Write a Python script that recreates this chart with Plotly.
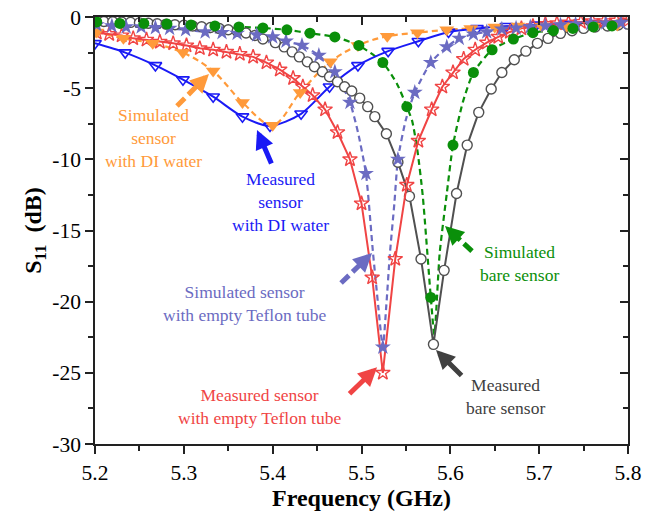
import plotly.graph_objects as go

# ---------------- data ----------------
# Measured bare sensor (grey open circles, solid)
meas_bare_f = [5.200, 5.210, 5.220, 5.230, 5.240, 5.250, 5.260, 5.270, 5.280, 5.290,
               5.300, 5.310, 5.320, 5.330, 5.340, 5.350, 5.360, 5.370, 5.380, 5.389,
               5.403, 5.413, 5.422, 5.430, 5.439, 5.447, 5.456, 5.464, 5.473, 5.481,
               5.489, 5.498, 5.507, 5.515, 5.528, 5.541, 5.554, 5.567, 5.581, 5.593,
               5.607, 5.619, 5.632, 5.646, 5.658, 5.672, 5.685, 5.698, 5.710, 5.724,
               5.737, 5.750, 5.763, 5.777, 5.789, 5.800]
meas_bare_db = [-0.30, -0.32, -0.34, -0.36, -0.38, -0.41, -0.44, -0.47, -0.50, -0.54,
                -0.58, -0.63, -0.68, -0.74, -0.81, -0.90, -1.00, -1.12, -1.30, -1.55,
                -1.80, -2.10, -2.45, -2.80, -3.15, -3.50, -3.85, -4.20, -4.55, -4.90,
                -5.20, -5.70, -6.30, -7.00, -8.20, -10.20, -12.60, -17.00, -23.00, -17.80,
                -12.40, -9.00, -6.70, -5.06, -3.90, -3.00, -2.40, -1.85, -1.50, -1.15,
                -0.97, -0.80, -0.70, -0.63, -0.56, -0.50]

# Simulated bare sensor (green filled circles, dashed)
sim_bare_f = [5.202, 5.228, 5.255, 5.281, 5.308, 5.335, 5.362, 5.389, 5.416, 5.442,
              5.470, 5.497, 5.524, 5.551, 5.578, 5.603, 5.626, 5.647, 5.671, 5.693,
              5.716, 5.738, 5.761, 5.782]
sim_bare_db = [-0.35, -0.45, -0.45, -0.50, -0.56, -0.63, -0.70, -0.77, -0.90, -1.14,
               -1.40, -2.00, -3.20, -6.30, -19.70, -9.00, -3.90, -2.30, -1.55, -1.10,
               -0.95, -0.80, -0.70, -0.63]
sim_bare_line_f = [5.200, 5.228, 5.255, 5.281, 5.308, 5.335, 5.362, 5.389, 5.416, 5.442,
                   5.470, 5.497, 5.524, 5.540, 5.551, 5.557, 5.563, 5.569, 5.578, 5.582,
                   5.588, 5.596, 5.603, 5.614, 5.626, 5.647, 5.671, 5.693, 5.716, 5.738,
                   5.761, 5.782, 5.800]
sim_bare_line_db = [-0.33, -0.45, -0.45, -0.50, -0.56, -0.63, -0.70, -0.77, -0.90, -1.14,
                    -1.40, -2.00, -3.20, -4.70, -6.30, -7.30, -9.40, -12.60, -19.70, -22.30,
                    -16.60, -12.40, -9.00, -6.00, -3.90, -2.30, -1.55, -1.10, -0.95, -0.80,
                    -0.70, -0.63, -0.60]

# Measured sensor with empty Teflon tube (red open stars, solid)
meas_tef_f = [5.202, 5.216, 5.230, 5.243, 5.258, 5.273, 5.288, 5.303, 5.318, 5.333,
              5.348, 5.363, 5.378, 5.393, 5.408, 5.423, 5.434, 5.445, 5.459, 5.473,
              5.487, 5.500, 5.512, 5.524, 5.538, 5.551, 5.564, 5.579, 5.591, 5.603,
              5.615, 5.628, 5.641, 5.654, 5.667, 5.680, 5.693, 5.707, 5.720, 5.733,
              5.747, 5.760, 5.773, 5.787, 5.800]
meas_tef_db = [-1.10, -1.20, -1.30, -1.50, -1.60, -1.75, -1.85, -2.00, -2.20, -2.30,
               -2.45, -2.60, -2.80, -3.20, -3.70, -4.30, -4.90, -5.50, -6.50, -8.10,
               -10.00, -13.10, -18.30, -25.00, -17.00, -11.80, -8.70, -6.50, -4.90, -3.90,
               -2.95, -2.30, -1.80, -1.40, -1.05, -0.80, -0.65, -0.50, -0.45, -0.40,
               -0.35, -0.30, -0.30, -0.25, -0.25]

# Simulated sensor with empty Teflon tube (slate filled stars, dashed)
sim_tef_f = [5.202, 5.219, 5.235, 5.252, 5.268, 5.284, 5.302, 5.324, 5.343, 5.360,
             5.382, 5.400, 5.415, 5.433, 5.452, 5.470, 5.487, 5.505, 5.524, 5.541,
             5.560, 5.578, 5.596, 5.610, 5.626, 5.641, 5.658, 5.674, 5.690, 5.707,
             5.724, 5.741, 5.758, 5.775, 5.792]
sim_tef_db = [-0.56, -0.63, -0.70, -0.70, -0.75, -0.80, -0.90, -1.05, -1.10, -1.15,
              -1.26, -1.40, -1.70, -2.00, -2.70, -3.85, -6.00, -11.00, -23.20, -10.00,
              -5.30, -3.20, -2.10, -1.50, -1.20, -1.05, -0.85, -0.78, -0.70, -0.63,
              -0.56, -0.50, -0.45, -0.42, -0.40]
sim_tef_line_f = [5.200, 5.219, 5.235, 5.252, 5.268, 5.284, 5.302, 5.324, 5.343, 5.360,
                  5.382, 5.400, 5.415, 5.433, 5.452, 5.470, 5.487, 5.496, 5.505, 5.513,
                  5.519, 5.524, 5.528, 5.532, 5.537, 5.541, 5.550, 5.560, 5.578, 5.596,
                  5.610, 5.626, 5.641, 5.658, 5.674, 5.690, 5.707, 5.724, 5.741, 5.758,
                  5.775, 5.792, 5.800]
sim_tef_line_db = [-0.55, -0.63, -0.70, -0.70, -0.75, -0.80, -0.90, -1.05, -1.10, -1.15,
                   -1.26, -1.40, -1.70, -2.00, -2.70, -3.85, -6.00, -8.10, -11.00, -16.60,
                   -20.40, -23.20, -20.20, -16.60, -13.10, -10.00, -7.20, -5.30, -3.20, -2.10,
                   -1.50, -1.20, -1.05, -0.85, -0.78, -0.70, -0.63, -0.56, -0.50, -0.45,
                   -0.42, -0.40, -0.40]

# Measured sensor with DI water (blue open triangles, solid)
meas_di_f = [5.200, 5.234, 5.268, 5.299, 5.333, 5.366, 5.397, 5.432, 5.464, 5.496,
             5.530, 5.564, 5.598, 5.630, 5.663, 5.697, 5.730, 5.763, 5.797]
meas_di_db = [-1.85, -2.50, -3.40, -4.40, -5.60, -7.00, -7.65, -6.80, -4.90, -3.40,
              -2.40, -1.70, -1.05, -0.80, -0.65, -0.55, -0.50, -0.45, -0.40]

# Simulated sensor with DI water (orange filled triangles, dashed)
sim_di_f = [5.202, 5.232, 5.265, 5.299, 5.333, 5.366, 5.400, 5.431, 5.465, 5.496,
            5.529, 5.563, 5.596, 5.623, 5.650, 5.676, 5.703, 5.731, 5.761, 5.788]
sim_di_db = [-1.05, -1.50, -1.85, -2.50, -3.80, -6.00, -7.60, -5.30, -3.15, -2.00,
             -1.35, -1.10, -0.90, -0.80, -0.70, -0.63, -0.63, -0.63, -0.63, -0.56]

x_ticks = [5.2, 5.3, 5.4, 5.5, 5.6, 5.7, 5.8]
y_ticks = [0, -5, -10, -15, -20, -25, -30]

# ---------------- styling ----------------
FONT = "Liberation Serif"
C_GRAY = "#505050"
C_GREEN = "#0A8F0A"
C_RED = "#F04444"
C_SLATE = "#6B6BC2"
C_BLUE = "#1A1AF5"
C_ORANGE = "#FF9A3A"
DASH = "6px,4px"

fig = go.Figure()

# simulated lines (under markers)
fig.add_trace(go.Scatter(x=sim_bare_line_f, y=sim_bare_line_db, mode="lines",
                         line=dict(color=C_GREEN, width=2.2, dash=DASH, shape="spline", smoothing=0.6),
                         hoverinfo="skip"))
fig.add_trace(go.Scatter(x=sim_tef_line_f, y=sim_tef_line_db, mode="lines",
                         line=dict(color=C_SLATE, width=2.2, dash=DASH, shape="spline", smoothing=0.6),
                         hoverinfo="skip"))
fig.add_trace(go.Scatter(x=sim_di_f, y=sim_di_db, mode="lines",
                         line=dict(color=C_ORANGE, width=2.2, dash=DASH, shape="spline", smoothing=1.0),
                         hoverinfo="skip"))

# measured
fig.add_trace(go.Scatter(x=meas_di_f, y=meas_di_db, mode="lines+markers",
                         line=dict(color=C_BLUE, width=2, shape="spline", smoothing=0.8),
                         marker=dict(symbol="triangle-down-open", size=11, color=C_BLUE,
                                     line=dict(width=1.6, color=C_BLUE))))
fig.add_trace(go.Scatter(x=meas_bare_f, y=meas_bare_db, mode="lines+markers",
                         line=dict(color=C_GRAY, width=2),
                         marker=dict(symbol="circle", size=10, color="white",
                                     line=dict(width=1.4, color=C_GRAY))))
fig.add_trace(go.Scatter(x=meas_tef_f, y=meas_tef_db, mode="lines+markers",
                         line=dict(color=C_RED, width=2),
                         marker=dict(symbol="star-open", size=11, color=C_RED,
                                     line=dict(width=1.4, color=C_RED))))

# simulated markers
fig.add_trace(go.Scatter(x=sim_di_f, y=sim_di_db, mode="markers",
                         marker=dict(symbol="triangle-down", size=13, color=C_ORANGE)))
fig.add_trace(go.Scatter(x=sim_tef_f, y=sim_tef_db, mode="markers",
                         marker=dict(symbol="star", size=12, color=C_SLATE)))
fig.add_trace(go.Scatter(x=sim_bare_f, y=sim_bare_db, mode="markers",
                         marker=dict(symbol="circle", size=11, color=C_GREEN)))

# ---------------- arrows & labels ----------------
PX_X = 888.3   # pixels per GHz in the plot area
PX_Y = 14.23   # pixels per dB

arrows = [  # tip f, tip dB, tail f, tail dB, colour, dashed
    (5.3283, -4.00, 5.2923, -6.25, C_ORANGE, True),
    (5.3824, -7.94, 5.3993, -10.40, C_BLUE, False),
    (5.5119, -16.58, 5.4770, -18.69, C_SLATE, True),
    (5.5175, -24.60, 5.4848, -26.57, C_RED, False),
    (5.5839, -23.40, 5.6143, -25.30, "#404040", False),
    (5.5940, -14.69, 5.6244, -16.45, C_GREEN, True),
]
for tf, tdb, af, adb, col, dashed in arrows:
    dxp = (af - tf) * PX_X
    dyp = -(adb - tdb) * PX_Y
    L = (dxp ** 2 + dyp ** 2) ** 0.5
    ux, uy = dxp / L, dyp / L
    if dashed:
        hb = 12
        fig.add_shape(type="line", xref="x", yref="y",
                      x0=af, y0=adb, x1=tf + ux * hb / PX_X, y1=tdb - uy * hb / PX_Y,
                      line=dict(color=col, width=5, dash="11px,5px"))
        fig.add_annotation(x=tf, y=tdb, xref="x", yref="y", text="", showarrow=True,
                           ax=ux * 14, ay=uy * 14, arrowhead=2, arrowsize=0.75,
                           arrowwidth=5, arrowcolor=col, standoff=0)
    else:
        fig.add_annotation(x=tf, y=tdb, xref="x", yref="y", text="", showarrow=True,
                           ax=dxp, ay=dyp, arrowhead=2, arrowsize=0.75,
                           arrowwidth=5, arrowcolor=col, standoff=0)

labels = [
    (5.2653, -8.5, "Simulated<br>sensor<br>with DI water", C_ORANGE),
    (5.4083, -13.0, "Measured<br>sensor<br>with DI water", C_BLUE),
    (5.3678, -20.1, "Simulated sensor<br>with empty Teflon tube", C_SLATE),
    (5.3850, -27.33, "Measured sensor<br>with empty Teflon tube", C_RED),
    (5.6617, -26.63, "Measured<br>bare sensor", "#404040"),
    (5.6773, -17.35, "Simulated<br>bare sensor", C_GREEN),
]
for f, db, txt, col in labels:
    fig.add_annotation(x=f, y=db, xref="x", yref="y", text=txt, showarrow=False,
                       font=dict(family=FONT, size=17.5, color=col), align="center")

axis_common = dict(showline=True, linecolor="#222", linewidth=1.5, showgrid=False,
                   zeroline=False, ticklen=8, tickwidth=1.5, tickcolor="#222",
                   automargin=False)

fig.update_layout(
    width=656, height=521,
    margin=dict(l=95, r=28, t=17, b=77, autoexpand=False),
    paper_bgcolor="white", plot_bgcolor="white",
    showlegend=False,
    font=dict(family=FONT, size=21, color="black"),
    xaxis=dict(range=[5.2, 5.8], tickvals=x_ticks, ticktext=[f"{v:.1f}" for v in x_ticks],
               ticks="outside",
               minor=dict(ticks="outside", dtick=0.05, tick0=5.2, ticklen=5, tickwidth=1.5, tickcolor="#222"),
               title=dict(text="<b>Frequency (GHz)</b>", font=dict(family=FONT, size=24), standoff=6),
               tickfont=dict(family=FONT, size=21.5), **axis_common),
    yaxis=dict(range=[-30, 0], tickvals=y_ticks, ticktext=[str(v) for v in y_ticks],
               ticks="outside",
               minor=dict(ticks="outside", dtick=2.5, tick0=0, ticklen=5, tickwidth=1.5, tickcolor="#222"),
               title=dict(text="<b>S<sub>11</sub>  (dB)</b>", font=dict(family=FONT, size=24), standoff=4),
               tickfont=dict(family=FONT, size=21.5), **axis_common),
    xaxis2=dict(range=[5.2, 5.8], overlaying="x", side="top", tickvals=x_ticks, ticks="inside",
                showticklabels=False,
                minor=dict(ticks="inside", dtick=0.05, tick0=5.2, ticklen=5, tickwidth=1.5, tickcolor="#222"),
                **axis_common),
    yaxis2=dict(range=[-30, 0], overlaying="y", side="right", tickvals=y_ticks, ticks="inside",
                showticklabels=False,
                minor=dict(ticks="inside", dtick=2.5, tick0=0, ticklen=5, tickwidth=1.5, tickcolor="#222"),
                **axis_common),
)
fig.add_trace(go.Scatter(x=[None], y=[None], xaxis="x2", yaxis="y2", mode="markers",
                         hoverinfo="skip", showlegend=False))

fig.write_html("out.html")
